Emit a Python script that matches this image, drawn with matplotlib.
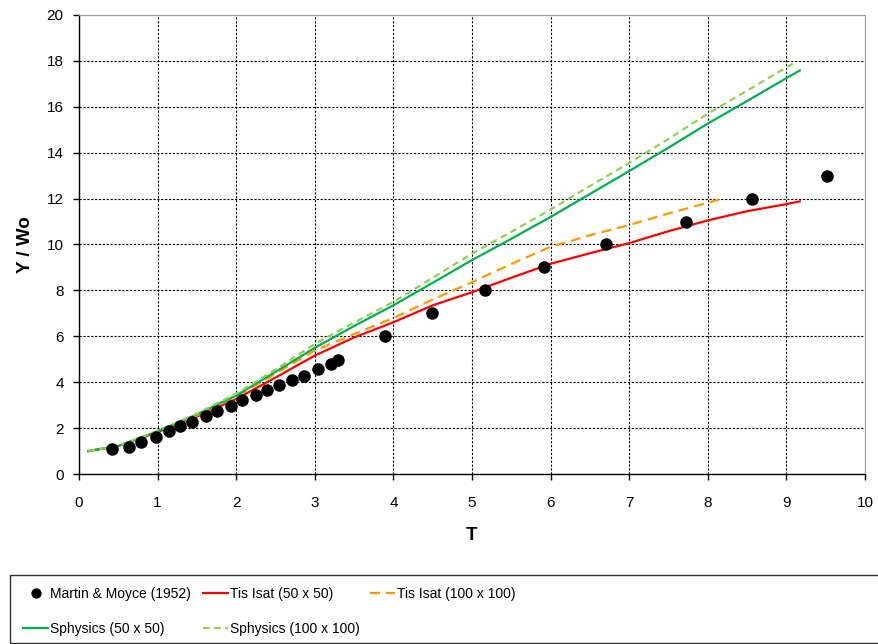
import matplotlib
matplotlib.use("Agg")
import matplotlib.pyplot as plt
from matplotlib.patches import Rectangle

plt.rcParams['font.family'] = ['Liberation Sans', 'DejaVu Sans']

# Martin & Moyce (1952) - datos experimentales
mm_t = [0.42, 0.63, 0.79, 0.98, 1.14, 1.29, 1.44, 1.62, 1.76, 1.93, 2.07, 2.25, 2.39, 2.54,
        2.71, 2.86, 3.04, 3.21, 3.30, 3.89, 4.49, 5.17, 5.91, 6.70, 7.72, 8.56, 9.52]
mm_y = [1.11, 1.19, 1.40, 1.63, 1.87, 2.07, 2.28, 2.53, 2.75, 2.97, 3.22, 3.44, 3.64, 3.89,
        4.10, 4.28, 4.56, 4.78, 4.95, 6.0, 7.0, 8.0, 9.0, 10.0, 11.0, 12.0, 13.0]

# Tis Isat (50 x 50)
tis50_t = [0.12, 0.5, 1.0, 1.5, 2.0, 2.5, 3.0, 3.5, 4.0, 4.5, 5.0, 5.5, 6.0, 6.5, 7.0, 7.5, 8.0, 8.5, 9.0, 9.17]
tis50_y = [1.0, 1.22, 1.82, 2.5, 3.27, 4.2, 5.16, 5.95, 6.61, 7.35, 7.92, 8.55, 9.16, 9.62, 10.06, 10.58, 11.05, 11.45, 11.76, 11.88]

# Tis Isat (100 x 100)
tis100_t = [0.12, 0.5, 1.0, 1.5, 2.0, 2.5, 3.0, 3.5, 4.0, 4.5, 5.0, 5.5, 6.0, 6.5, 7.0, 7.5, 8.0, 8.14]
tis100_y = [1.0, 1.22, 1.84, 2.55, 3.38, 4.38, 5.38, 6.1, 6.8, 7.6, 8.36, 9.15, 9.9, 10.4, 10.85, 11.35, 11.82, 11.95]

# Sphysics (50 x 50)
sph50_t = [0.12, 0.5, 1.0, 1.5, 2.0, 2.5, 3.0, 3.5, 4.0, 4.5, 5.0, 5.5, 6.0, 6.5, 7.0, 7.5, 8.0, 8.5, 9.0, 9.17]
sph50_y = [1.0, 1.22, 1.86, 2.6, 3.42, 4.45, 5.5, 6.45, 7.35, 8.33, 9.32, 10.25, 11.2, 12.2, 13.2, 14.22, 15.27, 16.25, 17.25, 17.58]

# Sphysics (100 x 100)
sph100_t = [0.12, 0.5, 1.0, 1.5, 2.0, 2.5, 3.0, 3.5, 4.0, 4.5, 5.0, 5.5, 6.0, 6.5, 7.0, 7.5, 8.0, 8.5, 9.0, 9.12]
sph100_y = [1.0, 1.23, 1.88, 2.63, 3.5, 4.55, 5.67, 6.6, 7.5, 8.55, 9.6, 10.55, 11.52, 12.55, 13.55, 14.6, 15.7, 16.7, 17.72, 17.96]

fig = plt.figure(figsize=(8.79, 6.44), dpi=100)
ax = fig.add_axes([79 / 879, 1 - 474 / 644, (865 - 79) / 879, (474 - 15) / 644])

ax.plot(mm_t, mm_y, 'o', color='black', ms=8, label='Martin & Moyce (1952)', zorder=5)
ax.plot(tis50_t, tis50_y, '-', color='#FF0000', lw=1.6, label='Tis Isat (50 x 50)')
ax.plot(tis100_t, tis100_y, color='#FF9900', lw=1.6, dashes=(4.5, 2.7), label='Tis Isat (100 x 100)')
ax.plot(sph50_t, sph50_y, '-', color='#00B050', lw=1.6, label='Sphysics (50 x 50)')
ax.plot(sph100_t, sph100_y, color='#92D050', lw=1.6, dashes=(3, 2), label='Sphysics (100 x 100)')

ax.set_xlim(0, 10)
ax.set_ylim(0, 20)
ax.set_xticks(range(0, 11))
ax.set_yticks(range(0, 21, 2))
ax.grid(True, color='black', linestyle=(0, (2, 1.5)), lw=0.8)
ax.set_axisbelow(True)
ax.tick_params(direction='out', length=4, width=1, labelsize=11, colors='black')
ax.tick_params(axis='x', pad=12)
ax.tick_params(axis='y', pad=7)

for s in ['top', 'right']:
    ax.spines[s].set_color('#A0A0A0')
for s in ['left', 'bottom']:
    ax.spines[s].set_color('black')
    ax.spines[s].set_linewidth(1)

ax.set_xlabel('T', fontsize=13.5, fontweight='bold', labelpad=12)
ax.set_ylabel('Y / Wo', fontsize=13.5, fontweight='bold', labelpad=9)

# Caja de la leyenda
fig.patches.append(Rectangle((10 / 879, 1.5 / 644), 1.0, (642.5 - 575) / 644,
                             transform=fig.transFigure, fill=False, edgecolor='#333333', lw=1))

# Leyenda en tres columnas colocadas a mano
h, l = ax.get_legend_handles_labels()
columnas = [([0, 3], 23), ([1, 4], 203), ([2], 370)]
for idx, x0 in columnas:
    leg = fig.legend([h[i] for i in idx], [l[i] for i in idx], frameon=False,
                     loc='upper left', bbox_to_anchor=(x0 / 879, 1 - 587 / 644),
                     fontsize=10, handlelength=1.8, handletextpad=0.15,
                     borderaxespad=0, borderpad=0, labelspacing=1.5, markerscale=0.8)

fig.savefig('out.png', dpi=100)
